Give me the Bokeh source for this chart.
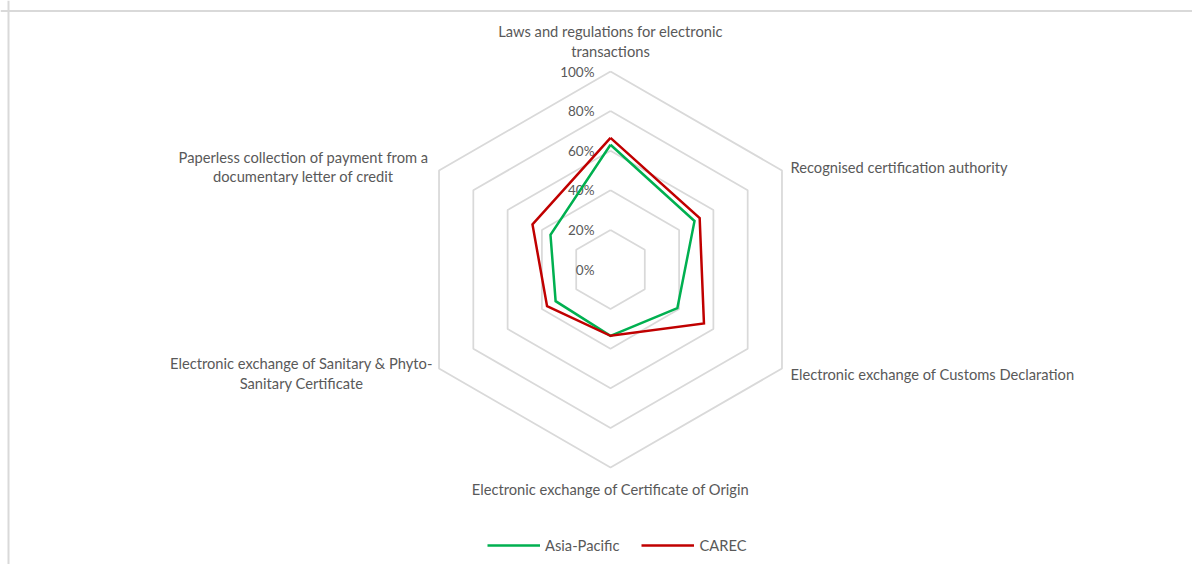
import numpy as np
from bokeh.plotting import figure
from bokeh.models import ColumnDataSource, Range1d, Span, Legend, LegendItem
from bokeh.core.properties import value
from bokeh.embed import file_html
from bokeh.resources import INLINE

categories = [
    "Laws and regulations for electronic\ntransactions",
    "Recognised certification authority",
    "Electronic exchange of Customs Declaration",
    "Electronic exchange of Certificate of Origin",
    "Electronic exchange of Sanitary & Phyto-\nSanitary Certificate",
    "Paperless collection of payment from a\ndocumentary letter of credit",
]
asia_pacific = [63, 49, 39, 33.5, 32, 35]
carec = [66.5, 52, 54.5, 33.5, 37, 45.5]
tick_values = [0, 20, 40, 60, 80, 100]
tick_labels = ["0%", "20%", "40%", "60%", "80%", "100%"]

FONT = "Lato"
TXT = "#595959"
GRID = "#d9d9d9"
SCALE = 1.98  # px per percent

n = len(categories)
theta = np.arange(n) * 2 * np.pi / n


def polar(vals):
    v = np.asarray(vals, dtype=float) * SCALE
    x = v * np.sin(theta)
    y = v * np.cos(theta)
    return list(x) + [x[0]], list(y) + [y[0]]


W, H = 1192, 564
CX, CY = 610, 269
p = figure(width=W, height=H, x_range=Range1d(-CX, W - CX), y_range=Range1d(CY - H, CY),
           min_border=0, toolbar_location=None, output_backend="svg")
p.axis.visible = False
p.grid.visible = False
p.outline_line_color = None
p.background_fill_color = "white"
p.border_fill_color = "white"

# frame lines (top and left)
p.add_layout(Span(location=258.5, dimension="width", line_color=GRID, line_width=2))
p.add_layout(Span(location=-602, dimension="height", line_color=GRID, line_width=2))

# hexagon grid
for t in tick_values[1:]:
    gx, gy = polar([t] * n)
    p.line(gx, gy, line_color=GRID, line_width=1.75)

# tick labels
p.text(x=[-16] * len(tick_values), y=[t * SCALE for t in tick_values], text=tick_labels,
       text_align="right", text_baseline="middle", text_font=value(FONT),
       text_font_size="13.5px", text_color=TXT)

# series
ax, ay = polar(asia_pacific)
cx, cy = polar(carec)
r1 = p.line(ax, ay, line_color="#00B050", line_width=2.5, line_join="miter")
r2 = p.line(cx, cy, line_color="#C00000", line_width=2.5, line_join="miter")

# category labels
lab_x = [0, 180, 180, 0, -309, -307]
lab_y = [228.5, 103, -104, -219, -103.5, 103]
lab_align = ["center", "left", "left", "center", "center", "center"]
src = ColumnDataSource(dict(x=lab_x, y=lab_y, text=categories, align=lab_align))
p.text(x="x", y="y", text="text", text_align="align", source=src, text_baseline="middle",
       text_font=value(FONT), text_font_size="14.7px", text_color=TXT, text_line_height=1.08)

legend = Legend(items=[LegendItem(label="Asia-Pacific", renderers=[r1]),
                       LegendItem(label="CAREC", renderers=[r2])],
                orientation="horizontal", location=(487, 9), glyph_width=53,
                label_text_font=FONT, label_text_font_size="14.7px", label_text_color=TXT,
                border_line_color=None, background_fill_alpha=0, padding=0, margin=0,
                spacing=22, label_standoff=5)
p.add_layout(legend)

open("out.html", "w").write(file_html(p, INLINE))
